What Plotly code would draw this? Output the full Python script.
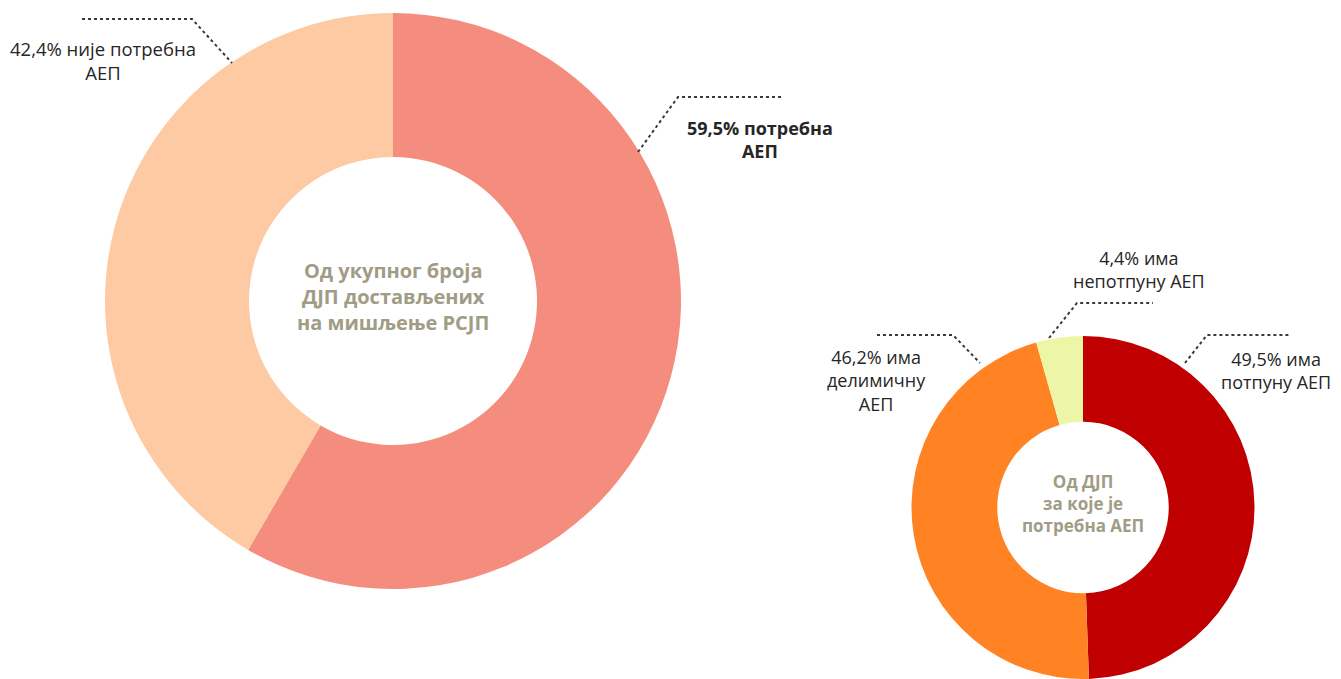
import plotly.graph_objects as go

W, H = 1341, 679

# Data
big_labels = ["потребна АЕП", "није потребна АЕП"]
big_values = [59.5, 42.4]
big_colors = ["#F58D7E", "#FDCAA3"]

small_labels = ["има потпуну АЕП", "има делимичну АЕП", "има непотпуну АЕП"]
small_values = [49.5, 46.2, 4.4]
small_colors = ["#C00000", "#FF8322", "#EDF6A6"]

big_center = "Од укупног броја<br>ДЈП достављених<br>на мишљење РСЈП"
small_center = "Од ДЈП<br>за које је<br>потребна АЕП"

FONT = "Open Sans"
TXT = "#262626"
CENTER_COL = "#A09C86"
LEADER = "#3A3A3A"


def px(x):
    return x / W


def py(y):
    return 1 - y / H


fig = go.Figure()
fig.add_trace(go.Pie(
    labels=big_labels, values=big_values, hole=0.5, sort=False,
    direction="clockwise", rotation=0, textinfo="none", hoverinfo="label+value",
    marker=dict(colors=big_colors, line=dict(width=0)),
    domain=dict(x=[px(105), px(681)], y=[py(589), py(13)]),
    showlegend=False,
))
fig.add_trace(go.Pie(
    labels=small_labels, values=small_values, hole=0.5, sort=False,
    direction="clockwise", rotation=0, textinfo="none", hoverinfo="label+value",
    marker=dict(colors=small_colors, line=dict(width=0)),
    domain=dict(x=[px(1083 - 172), px(1083 + 172)], y=[0, py(336)]),
    showlegend=False,
))

annotations = []


def add_text(x, y, text, size=18, bold=False, color=TXT):
    if bold:
        text = "<b>" + text + "</b>"
    annotations.append(dict(
        x=px(x), y=py(y), xref="paper", yref="paper", text=text,
        showarrow=False, xanchor="center", yanchor="middle", align="center",
        font=dict(family=FONT, size=size, color=color),
    ))


add_text(393, 296, big_center, size=20, bold=True, color=CENTER_COL)
add_text(1083, 503, small_center, size=17, bold=True, color=CENTER_COL)

add_text(103, 60, "42,4% није потребна<br>АЕП", size=18.5)
add_text(760, 140, "59,5% потребна<br>АЕП", bold=True)
add_text(1139, 270, "4,4% има<br>непотпуну АЕП")
add_text(877, 380, "46,2% има<br>делимичну<br>АЕП")
add_text(1276, 371, "49,5% има<br>потпуну АЕП")

leaders = [
    [(82, 19), (192, 19), (232, 63)],
    [(638, 152), (678, 97), (783, 97)],
    [(877, 335), (953, 335), (980, 363)],
    [(1049, 338), (1077, 303), (1153, 303)],
    [(1185, 363), (1207, 335), (1290, 335)],
]
shapes = []
for pts in leaders:
    path = "M " + " L ".join(f"{px(a)},{py(b)}" for a, b in pts)
    shapes.append(dict(type="path", path=path, xref="paper", yref="paper",
                       line=dict(color=LEADER, width=2, dash="dot")))

fig.update_layout(
    width=W, height=H, margin=dict(l=0, r=0, t=0, b=0),
    paper_bgcolor="white", plot_bgcolor="white",
    annotations=annotations, shapes=shapes,
    font=dict(family=FONT),
)

fig.write_html("out.html", config={"displayModeBar": False},
               post_script="document.body.style.margin='0';document.body.style.overflow='hidden';")
